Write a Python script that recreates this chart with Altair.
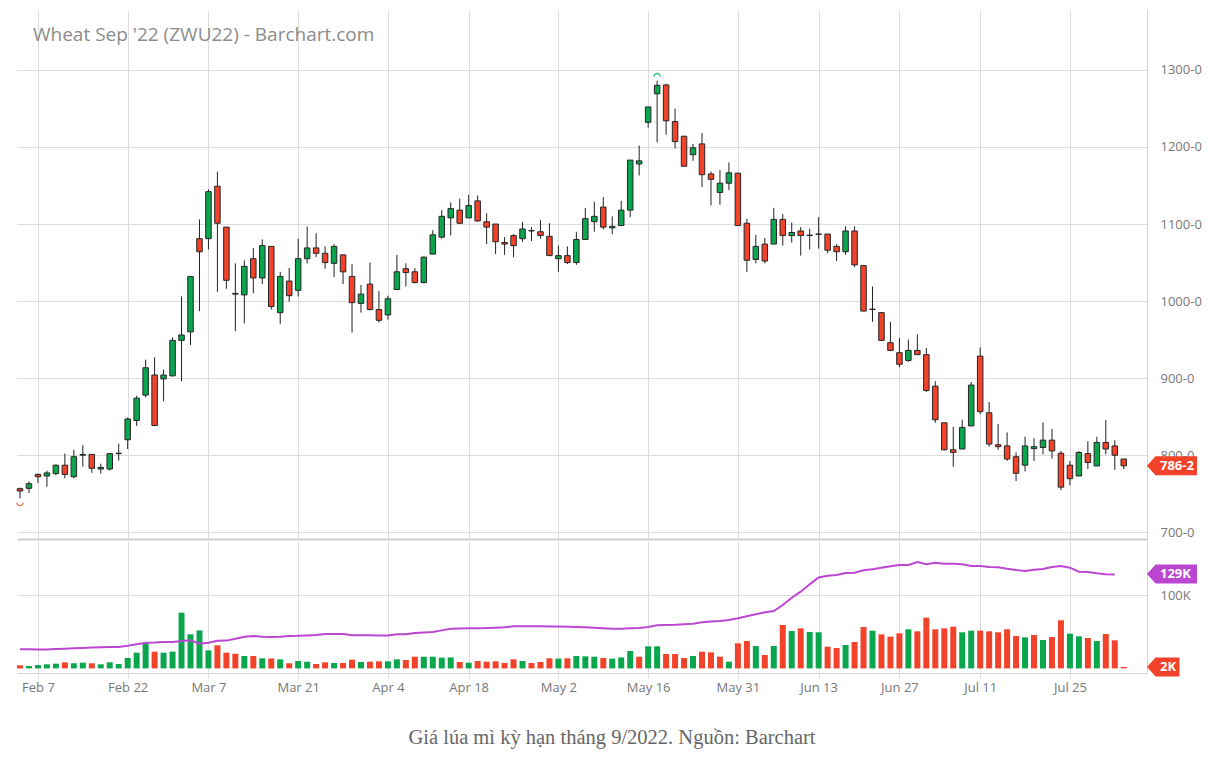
import altair as alt
import pandas as pd

# ---- data (cents/bushel, trading-day index 0 = Feb 3 2022) ----
opens = [756.5, 757, 775, 773, 776, 787, 772, 800, 801, 782, 782, 802, 820, 845, 878, 904, 899, 903, 949, 960,
         1081, 1081, 1149, 1096, 1010, 1008, 1055, 1030, 1071, 985, 1026, 1014, 1055, 1069, 1062, 1049, 1060, 1032, 997, 1022,
         989, 982, 1015, 1042, 1038, 1024, 1061, 1083, 1108, 1118, 1108, 1130, 1103, 1100, 1076, 1085, 1081, 1091.5, 1090, 1084,
         1055, 1059, 1050, 1080, 1103, 1122, 1095, 1098, 1118, 1178, 1232, 1269, 1280.5, 1233, 1214, 1190, 1204, 1165, 1141, 1153,
         1166, 1101, 1054, 1074, 1074, 1106, 1085, 1091, 1085, 1086.5, 1087, 1071, 1064, 1091, 1046, 989, 985, 946, 933, 923,
         936, 930.5, 889.5, 842, 807, 808, 838, 928.5, 855, 813.5, 812, 798, 787, 808.5, 810, 819.5, 802.5, 787, 773, 802,
         786, 816.5, 812, 795]
highs = [758, 766, 776, 780, 788, 802, 807, 813, 801, 789, 802, 815, 849, 877, 924, 927, 911, 953, 1006, 1032,
         1106, 1145, 1168, 1096, 1049, 1053, 1069, 1080, 1071, 1038, 1043, 1081, 1097, 1088, 1071, 1074, 1060, 1048, 1021, 1050,
         1013, 1007, 1060, 1049, 1043, 1058, 1092, 1118, 1128, 1133, 1138, 1137, 1114, 1100, 1083, 1087, 1103, 1096, 1105, 1101,
         1072, 1071, 1090, 1121, 1129, 1135, 1110, 1130, 1183, 1202, 1252, 1286, 1282, 1250, 1214, 1204, 1218, 1168, 1170, 1180,
         1166, 1107, 1086, 1082, 1121, 1113, 1102, 1096, 1094, 1109, 1087, 1074, 1097, 1097, 1046, 1019, 985, 973, 952, 950,
         957, 939, 896, 842, 837, 846, 895, 940, 869, 840.5, 829.5, 803.5, 824, 822, 842.5, 834, 805.5, 792.5, 805.5, 818,
         824, 845.5, 819.5, 795]
lows = [744, 751, 764, 759, 774, 770, 770, 785, 777, 776, 780, 793, 808, 838, 875, 838, 870, 902, 896, 943,
        987, 1067, 1012, 1016, 961, 971, 1010, 1022, 989, 970, 999, 1006, 1049, 1057, 1042, 1031, 1022, 959, 985, 988,
        972, 976, 1015, 1019, 1023, 1023, 1061, 1081, 1085, 1100, 1108, 1103, 1074, 1061, 1060, 1057, 1077, 1078, 1081, 1059,
        1038, 1048, 1047, 1080, 1090, 1093, 1087, 1098, 1109, 1163, 1225, 1206, 1216, 1198, 1175, 1182, 1148, 1124, 1125, 1144,
        1098, 1038, 1049, 1049, 1074, 1072, 1076, 1059, 1067, 1068, 1062, 1052, 1060, 1044, 987, 973, 948, 935, 914, 921,
        930, 882, 842, 806, 785, 808, 838, 853, 811, 807, 792.5, 766.5, 779, 792.5, 801, 795.5, 754.5, 761, 773, 782,
        786, 801, 781, 782]
closes = [753.5, 763, 772, 777, 787, 775, 798, 801, 783, 784, 802, 802.5, 847, 874, 913.5, 838.5, 904, 949, 956, 1032,
          1064, 1142, 1101, 1027, 1009, 1045, 1030, 1072, 993, 1032, 1007, 1055, 1069, 1062, 1050, 1071, 1038, 998, 1009, 989,
          975, 1003, 1038, 1037, 1024, 1057, 1086, 1110, 1120, 1101, 1124, 1104, 1096, 1077, 1074, 1072, 1093.5, 1091, 1085, 1059,
          1059, 1050, 1080, 1107, 1110, 1096, 1097, 1118, 1183, 1182, 1252, 1280, 1234, 1207, 1175, 1199, 1164, 1158, 1153, 1166.5,
          1098, 1053, 1071, 1052, 1106, 1085, 1089, 1085, 1085, 1087, 1066, 1064, 1091, 1047, 987, 989.5, 949, 936, 918, 936,
          930.5, 884, 846, 807, 803.5, 836, 891, 856.5, 814.5, 811, 795, 776.5, 812, 811, 819.5, 805.5, 758.5, 769.5, 803.5, 790.5,
          816.5, 808, 800, 786.25]
volumes_k = [4.2, 3.3, 4.6, 5.6, 6.5, 8.3, 7.0, 7.8, 7.0, 5.6, 8.3, 6.0, 14.2, 21.5, 34.3, 22.9, 21.5, 22.9, 76.2, 46.6,
             52.0, 24.7, 31.6, 21.5, 20.1, 17.0, 17.0, 13.8, 13.4, 12.4, 7.0, 10.1, 9.2, 6.0, 8.3, 7.4, 7.4, 11.9, 8.8, 9.2,
             9.7, 9.7, 12.4, 11.5, 16.0, 16.0, 16.0, 14.7, 15.0, 8.8, 7.8, 10.1, 9.2, 9.7, 7.4, 12.4, 10.1, 7.4, 8.8, 13.8,
             13.4, 13.8, 17.0, 16.5, 16.0, 14.2, 13.4, 15.0, 23.8, 16.0, 30.2, 30.2, 19.7, 19.7, 14.2, 17.0, 22.9, 22.0, 16.0, 9.2,
             34.3, 37.5, 30.6, 18.3, 30.6, 59.4, 51.2, 54.8, 49.8, 49.4, 29.7, 27.9, 32.0, 36.1, 56.6, 51.6, 46.6, 43.4, 48.0, 53.5,
             50.7, 69.4, 53.5, 54.8, 57.0, 49.4, 51.6, 51.6, 50.7, 49.4, 53.5, 44.3, 42.5, 45.7, 38.8, 42.9, 65.8, 47.5, 43.9, 41.6,
             37.5, 47.0, 38.4, 2.0]
open_interest_k = [26.1, 26.1, 26.0, 25.9, 26.5, 27.0, 27.5, 28.0, 28.5, 29.0, 29.3, 29.3, 31.0, 33.0, 35.2, 35.5, 36.1, 36.1, 37.5, 38.4,
                   33.8, 35.2, 37.9, 38.0, 40.6, 43.4, 44.3, 43.4, 42.9, 43.4, 44.3, 44.5, 45.0, 45.7, 47.0, 47.0, 47.0, 45.2, 45.2, 45.2,
                   45.0, 45.0, 46.6, 46.6, 48.4, 49.0, 49.8, 52.0, 54.3, 54.5, 54.8, 55.0, 55.2, 55.7, 56.2, 57.6, 57.6, 57.6, 57.6, 57.4,
                   57.2, 57.0, 56.7, 56.2, 55.7, 55.0, 54.3, 54.3, 54.8, 55.2, 56.7, 59.0, 59.4, 59.8, 60.5, 61.2, 63.0, 64.0, 64.8, 66.2,
                   68.5, 71.3, 74.0, 76.7, 78.5, 86.7, 96.7, 105.0, 115.0, 124.5, 126.8, 127.8, 130.5, 131.0, 134.2, 135.6, 137.8, 139.7, 141.5, 141.5,
                   145.6, 142.4, 144.6, 143.3, 143.3, 142.4, 140.1, 140.1, 138.7, 138.5, 136.4, 134.6, 133.2, 135.0, 136.0, 138.7, 140.1, 137.8, 132.3, 131.8,
                   130.1, 128.7, 128.3]
first_volume_dir = "down"   # colour of the first volume bar as seen in the picture
tick_idx = [2, 12, 21, 31, 41, 50, 60, 70, 80, 89, 98, 107, 117]
tick_labels = ["Feb 7", "Feb 22", "Mar 7", "Mar 21", "Apr 4", "Apr 18", "May 2", "May 16",
               "May 31", "Jun 13", "Jun 27", "Jul 11", "Jul 25"]
price_ticks = [700, 800, 900, 1000, 1100, 1200, 1300]
volume_ticks = [100]
last_price, last_price_label = 786.25, "786-2"
last_oi, last_oi_label = 129, "129K"
last_vol, last_vol_label = 2, "2K"
contract_low = (0, 738.6)
contract_high = (71, 1291.3)
title_text = "Wheat Sep '22 (ZWU22) - Barchart.com"
caption_text = "Giá lúa mì kỳ hạn tháng 9/2022. Nguồn: Barchart"

# ---- styles ----
GREEN = "#0AA64E"
RED = "#F2432A"
BLUE = "#2453C4"
PURPLE = "#BB47D0"
GRID = "#DCDCDC"
LABEL = "#777777"
FONT = "Open Sans"
W = 1130
H_PRICE = 529
H_VOL = 132

n = len(closes)
candle_dir = ["up" if c >= o else "down" for o, c in zip(opens, closes)]
vol_dir = [first_volume_dir] + [
    "up" if closes[i] > closes[i - 1] else ("down" if closes[i] < closes[i - 1] else "flat")
    for i in range(1, n)
]
body_lo = [min(o, c) for o, c in zip(opens, closes)]
body_hi = [max(max(o, c), min(o, c) + 0.6) for o, c in zip(opens, closes)]

df = pd.DataFrame({
    "i": list(range(n)), "open": opens, "high": highs, "low": lows, "close": closes,
    "body_lo": body_lo, "body_hi": body_hi, "cdir": candle_dir,
    "vol": volumes_k, "base": [0] * n, "vdir": vol_dir,
})
oi_df = pd.DataFrame({"i": list(range(len(open_interest_k))), "oi": open_interest_k})

xscale = alt.Scale(domain=[-0.334, 125.59], nice=False, zero=False, padding=0)
pscale = alt.Scale(domain=[691.2, 1377.8], nice=False, zero=False)
vscale = alt.Scale(domain=[-6.3, 174.3], nice=False, zero=False)

x_price_axis = alt.Axis(values=tick_idx, labels=False, ticks=False, grid=True, gridColor=GRID,
                        domain=True, domainColor="#CFCFCF", domainWidth=2, title=None)
label_expr = " : ".join(f"datum.value == {v} ? '{t}'" for v, t in zip(tick_idx, tick_labels)) + " : ''"
x_vol_axis = alt.Axis(values=tick_idx, labelExpr=label_expr, grid=True, gridColor=GRID,
                      ticks=True, tickColor=GRID, tickSize=5, domain=True, domainColor="#D4D4D4",
                      labelColor=LABEL, labelFont=FONT, labelFontSize=13, labelPadding=3,
                      labelFlush=False, labelOverlap=False, title=None)
p_axis = alt.Axis(orient="right", values=price_ticks, labelExpr="datum.value + '-0'", grid=True,
                  gridColor=GRID, ticks=False, domain=True, domainColor="#D4D4D4", labelPadding=13,
                  labelColor=LABEL, labelFont=FONT, labelFontSize=13, title=None)
v_axis = alt.Axis(orient="right", values=volume_ticks, labelExpr="datum.value + 'K'", grid=True,
                  gridColor=GRID, ticks=False, domain=True, domainColor="#D4D4D4", labelPadding=13,
                  labelColor=LABEL, labelFont=FONT, labelFontSize=13, title=None)

xp = alt.X("i:Q", scale=xscale, axis=x_price_axis)
xv = alt.X("i:Q", scale=xscale, axis=x_vol_axis)

base = alt.Chart(df)
wicks = base.mark_rule(color="#222222", strokeWidth=1).encode(
    x=xp, y=alt.Y("low:Q", scale=pscale, axis=p_axis), y2="high:Q")
bodies = base.mark_bar(size=5.5, stroke="#262626", strokeWidth=1).encode(
    x=xp, y=alt.Y("body_lo:Q", scale=pscale, axis=p_axis), y2="body_hi:Q",
    color=alt.Color("cdir:N", scale=alt.Scale(domain=["up", "down"], range=[GREEN, RED]), legend=None))

low_df = pd.DataFrame({"i": [contract_low[0]], "y": [contract_low[1]]})
high_df = pd.DataFrame({"i": [contract_high[0]], "y": [contract_high[1]]})
low_mark = alt.Chart(low_df).mark_point(shape="M -1 0 A 1 1 0 0 0 1 0", size=40, filled=False,
                                        color="#F26A4F", strokeWidth=1.3, opacity=1).encode(
    x=xp, y=alt.Y("y:Q", scale=pscale, axis=p_axis))
high_mark = alt.Chart(high_df).mark_point(shape="M -1 0 A 1 1 0 0 1 1 0", size=40, filled=False,
                                          color="#2BC46E", strokeWidth=1.3, opacity=1).encode(
    x=xp, y=alt.Y("y:Q", scale=pscale, axis=p_axis))

title_df = pd.DataFrame({"t": [title_text]})
title = alt.Chart(title_df).mark_text(font=FONT, fontSize=19, color="#8C8C8C", align="left",
                                      baseline="middle").encode(
    x=alt.value(16), y=alt.value(25), text="t:N")

TAG_SIZE = 2500  # custom symbol scale: 1 unit = 25 px
tag_wide = "M -1 0 L -0.66 -0.38 L 1 -0.38 L 1 0.38 L -0.66 0.38 Z"
tag_narrow = "M -1 0 L -0.66 -0.38 L 0.3 -0.38 L 0.3 0.38 L -0.66 0.38 Z"

price_tag_df = pd.DataFrame({"y": [last_price], "t": [last_price_label]})
price_tag = alt.Chart(price_tag_df).mark_point(shape=tag_wide, size=TAG_SIZE, filled=True, color=RED,
                                               opacity=1, strokeWidth=0).encode(
    x=alt.value(W + 25), y=alt.Y("y:Q", scale=pscale, axis=p_axis))
price_tag_text = alt.Chart(price_tag_df).mark_text(font=FONT, fontSize=13, fontWeight="bold", color="white",
                                                   align="left", baseline="middle").encode(
    x=alt.value(W + 13), y=alt.Y("y:Q", scale=pscale, axis=p_axis), text="t:N")

price_chart = alt.layer(wicks, bodies, low_mark, high_mark, title, price_tag, price_tag_text).properties(
    width=W, height=H_PRICE)

vbase = alt.Chart(df)
vol_bars = vbase.mark_bar(size=6).encode(
    x=xv, y=alt.Y("vol:Q", scale=vscale, axis=v_axis), y2="base:Q",
    color=alt.Color("vdir:N", scale=alt.Scale(domain=["up", "down", "flat"], range=[GREEN, RED, BLUE]),
                    legend=None))
oi_line = alt.Chart(oi_df).mark_line(color=PURPLE, strokeWidth=2).encode(
    x=xv, y=alt.Y("oi:Q", scale=vscale, axis=v_axis))

oi_tag_df = pd.DataFrame({"y": [last_oi], "t": [last_oi_label]})
vol_tag_df = pd.DataFrame({"y": [last_vol], "t": [last_vol_label]})
oi_tag = alt.Chart(oi_tag_df).mark_point(shape=tag_wide, size=TAG_SIZE, filled=True, color=PURPLE,
                                         opacity=1, strokeWidth=0).encode(
    x=alt.value(W + 25), y=alt.Y("y:Q", scale=vscale, axis=v_axis))
oi_tag_text = alt.Chart(oi_tag_df).mark_text(font=FONT, fontSize=13, fontWeight="bold", color="white",
                                             align="left", baseline="middle").encode(
    x=alt.value(W + 13), y=alt.Y("y:Q", scale=vscale, axis=v_axis), text="t:N")
vol_tag = alt.Chart(vol_tag_df).mark_point(shape=tag_narrow, size=TAG_SIZE, filled=True, color=RED,
                                           opacity=1, strokeWidth=0).encode(
    x=alt.value(W + 25), y=alt.Y("y:Q", scale=vscale, axis=v_axis))
vol_tag_text = alt.Chart(vol_tag_df).mark_text(font=FONT, fontSize=13, fontWeight="bold", color="white",
                                               align="left", baseline="middle").encode(
    x=alt.value(W + 13), y=alt.Y("y:Q", scale=vscale, axis=v_axis), text="t:N")

caption_df = pd.DataFrame({"t": [caption_text]})
caption = alt.Chart(caption_df).mark_text(font="Liberation Serif", fontSize=20.5, color="#666666",
                                          align="center", baseline="middle").encode(
    x=alt.value(595), y=alt.value(197), text="t:N")

vol_chart = alt.layer(vol_bars, oi_line, oi_tag, oi_tag_text, vol_tag, vol_tag_text, caption).properties(
    width=W, height=H_VOL)

chart = alt.vconcat(price_chart, vol_chart, spacing=1).properties(
    padding={"left": 14, "top": 10, "right": 0, "bottom": 0},
    background="white",
).configure_view(stroke=None)

chart.save("out.html", embed_options={"renderer": "svg", "actions": False})
